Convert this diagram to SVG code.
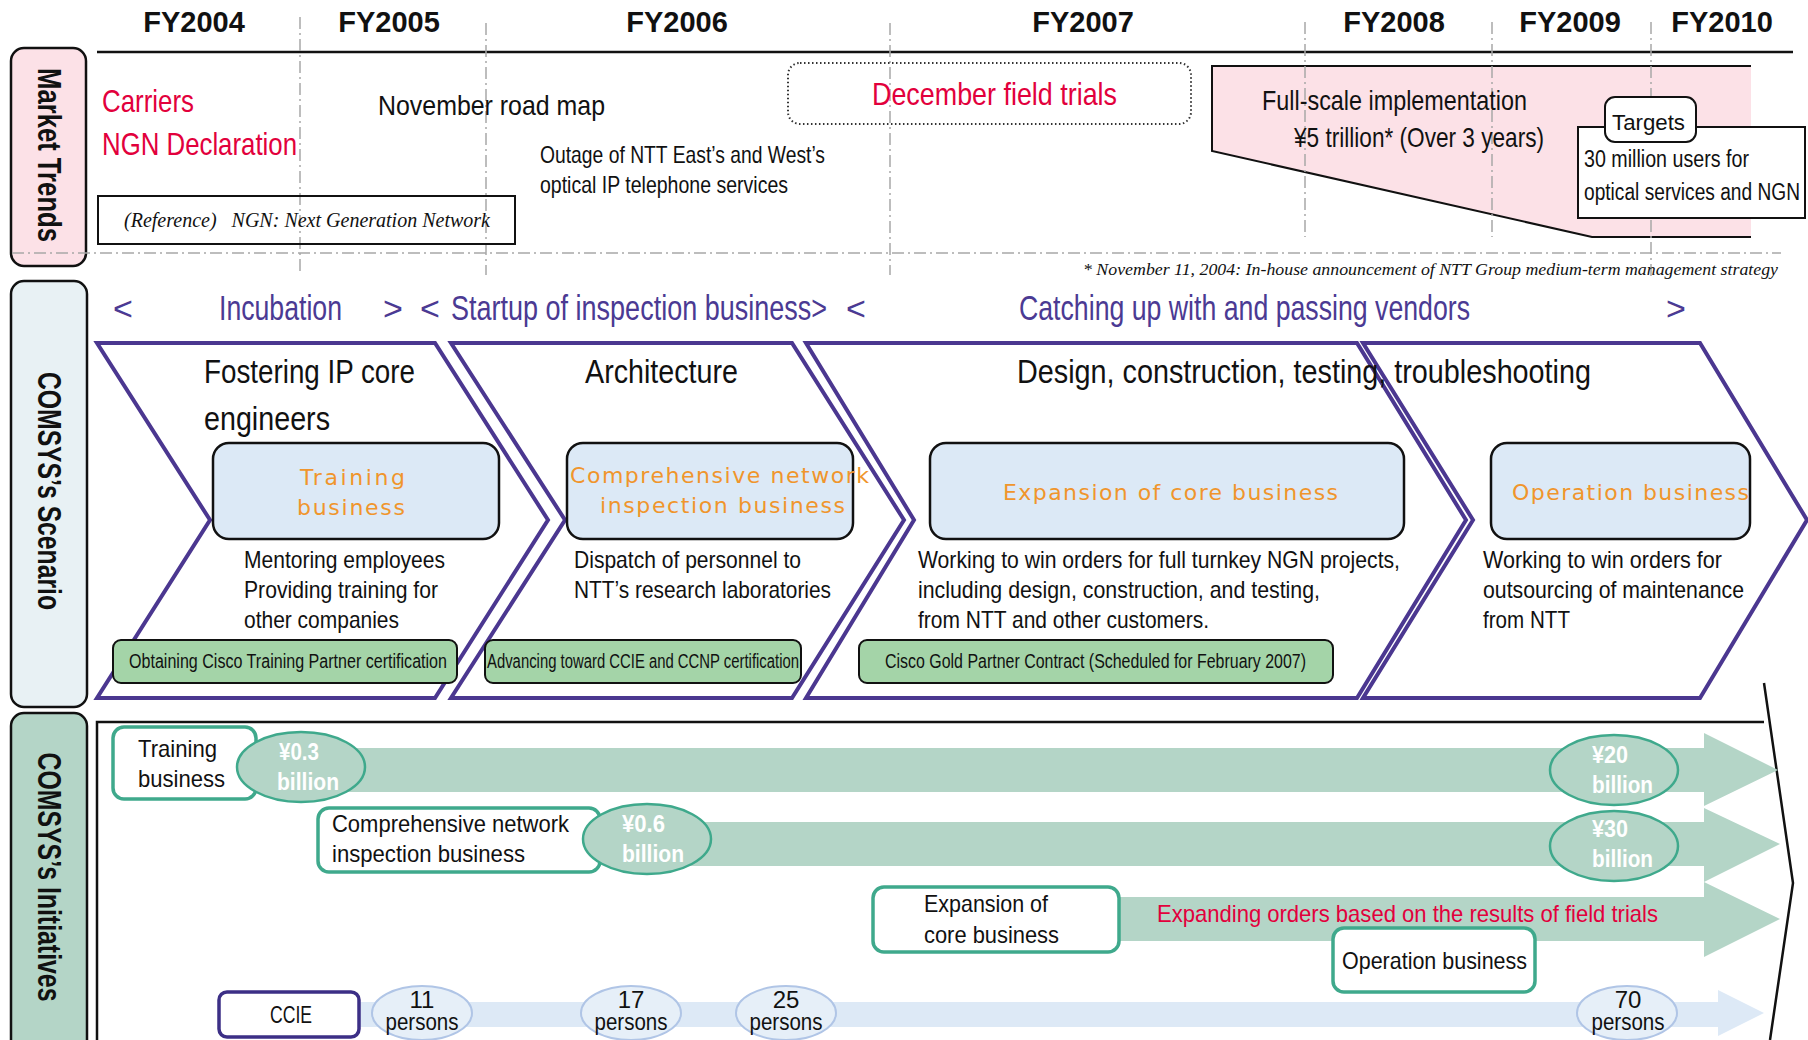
<svg xmlns="http://www.w3.org/2000/svg" width="1808" height="1040" viewBox="0 0 1808 1040">
<defs>
<style>
.t{font-family:"Liberation Sans Narrow","Liberation Sans",Arial,sans-serif;fill:#111}
.fy{font-family:"Liberation Sans",Arial,sans-serif;font-weight:bold;font-size:29px;text-anchor:middle;fill:#111}
.side{font-family:"Liberation Sans",Arial,sans-serif;font-weight:bold;font-size:33px;text-anchor:middle;fill:#111}
.red{fill:#e2003c}
.pur{fill:#4b3a93}
.br{font-family:"Liberation Sans",Arial,sans-serif;font-size:34px;fill:#4b3a93}
.org{font-family:"DejaVu Sans",sans-serif;fill:#f0952c;font-size:22px}
.ser{font-family:"Liberation Serif","Times New Roman",serif;font-style:italic;fill:#111}
.dash{stroke:#a8a8a8;stroke-width:1.5;stroke-dasharray:12 4 2 4;fill:none}
.chev{fill:#fff;stroke:#4b3790;stroke-width:4}
.inner{fill:#dce9f6;stroke:#111;stroke-width:2.5}
.green{fill:#a4d4a8;stroke:#111;stroke-width:2}
.tbox{fill:#fff;stroke:#3fa98c;stroke-width:3.5}
.bar{fill:#b4d5c7}
.ell{fill:#b4d5c7;stroke:#3fa98c;stroke-width:2.5}
.wb{font-family:"Liberation Sans Narrow","Liberation Sans",Arial,sans-serif;font-weight:bold;fill:#fff;font-size:24px}
.pbar{fill:#dde9f6}
.pell{fill:#e6eff8;stroke:#b0c5e6;stroke-width:2}
.sidebox{stroke:#111;stroke-width:2.5}
</style>
</defs>
<rect width="1808" height="1040" fill="#fff"/>

<!-- Side labels -->
<g id="side-market">
<rect class="sidebox" x="11" y="48" width="75" height="218" rx="13" fill="#fce1e7"/>
<text class="side" transform="translate(38,155) rotate(90)" textLength="174" lengthAdjust="spacingAndGlyphs">Market Trends</text>
</g>
<g id="side-scenario">
<rect class="sidebox" x="11" y="281" width="76" height="426" rx="13" fill="#e8f1f4"/>
<text class="side" transform="translate(38,491) rotate(90)" textLength="238" lengthAdjust="spacingAndGlyphs">COMSYS’s Scenario</text>
</g>
<g id="side-initiatives">
<rect class="sidebox" x="11" y="713" width="76" height="345" rx="13" fill="#b4d5c7"/>
<text class="side" transform="translate(38,877) rotate(90)" textLength="249" lengthAdjust="spacingAndGlyphs">COMSYS’s Initiatives</text>
</g>

<!-- Timeline -->
<g id="timeline">
<line x1="97" y1="52" x2="1793" y2="52" stroke="#111" stroke-width="2.5"/>
<text class="fy" x="194" y="32">FY2004</text>
<text class="fy" x="389" y="32">FY2005</text>
<text class="fy" x="677" y="32">FY2006</text>
<text class="fy" x="1083" y="32">FY2007</text>
<text class="fy" x="1394" y="32">FY2008</text>
<text class="fy" x="1570" y="32">FY2009</text>
<text class="fy" x="1722" y="32">FY2010</text>
</g>

<!-- Full-scale implementation shape -->
<g id="fullscale">
<polygon points="1212,66 1751,66 1751,237 1592,237 1212,151" fill="#fce1e7"/>
<path d="M1751,66 H1212 V151 L1592,237 H1751" fill="none" stroke="#111" stroke-width="2"/>
</g>

<!-- dashed grid -->
<g id="grid">
<line class="dash" x1="300" y1="17" x2="300" y2="275"/>
<line class="dash" x1="486" y1="23" x2="486" y2="275"/>
<line class="dash" x1="890" y1="23" x2="890" y2="275"/>
<line class="dash" x1="1305" y1="22" x2="1305" y2="237"/>
<line class="dash" x1="1492" y1="22" x2="1492" y2="237"/>
<line class="dash" x1="1651" y1="22" x2="1651" y2="277"/>
<line class="dash" x1="12" y1="253" x2="1781" y2="253"/>
</g>

<g id="fullscale-text">
<text class="t" x="1262" y="110" font-size="28" textLength="265" lengthAdjust="spacingAndGlyphs">Full-scale implementation</text>
<text class="t" x="1294" y="147" font-size="28" textLength="250" lengthAdjust="spacingAndGlyphs">¥5 trillion* (Over 3 years)</text>
</g>

<g id="targets">
<rect x="1578" y="127" width="227" height="91" fill="#fff" stroke="#111" stroke-width="2"/>
<rect x="1605" y="97" width="91" height="45" rx="10" fill="#fff" stroke="#111" stroke-width="2"/>
<text class="t" x="1612" y="130" font-size="22" textLength="73" lengthAdjust="spacingAndGlyphs">Targets</text>
<text class="t" x="1584" y="167" font-size="23" textLength="165" lengthAdjust="spacingAndGlyphs">30 million users for</text>
<text class="t" x="1584" y="200" font-size="23" textLength="216" lengthAdjust="spacingAndGlyphs">optical services and NGN</text>
</g>

<g id="carriers">
<text class="t red" x="102" y="112" font-size="32" textLength="92" lengthAdjust="spacingAndGlyphs">Carriers</text>
<text class="t red" x="102" y="155" font-size="32" textLength="195" lengthAdjust="spacingAndGlyphs">NGN Declaration</text>
</g>
<g id="reference">
<rect x="98" y="196" width="417" height="48" fill="none" stroke="#111" stroke-width="2"/>
<text class="ser" x="124" y="227" font-size="21" textLength="366" lengthAdjust="spacingAndGlyphs" xml:space="preserve">(Reference)   NGN: Next Generation Network</text>
</g>
<g id="roadmap">
<text class="t" x="378" y="115" font-size="28" textLength="227" lengthAdjust="spacingAndGlyphs">November road map</text>
</g>
<g id="outage">
<text class="t" x="540" y="163" font-size="24" textLength="285" lengthAdjust="spacingAndGlyphs">Outage of NTT East’s and West’s</text>
<text class="t" x="540" y="193" font-size="24" textLength="248" lengthAdjust="spacingAndGlyphs">optical IP telephone services</text>
</g>
<g id="december">
<rect x="788" y="63" width="403" height="61" rx="12" fill="none" stroke="#333" stroke-width="2" stroke-dasharray="1.5 2.5"/>
<text class="t red" x="872" y="105" font-size="32" textLength="245" lengthAdjust="spacingAndGlyphs">December field trials</text>
</g>
<text class="ser" x="1083" y="275" font-size="17" textLength="695" lengthAdjust="spacingAndGlyphs">* November 11, 2004: In-house announcement of NTT Group medium-term management strategy</text>

<!-- Phase row -->
<g id="phases">
<text class="br" x="113" y="320">&lt;</text>
<text class="t pur" x="219" y="320" font-size="35" textLength="123" lengthAdjust="spacingAndGlyphs">Incubation</text>
<text class="br" x="383" y="320">&gt;</text>
<text class="br" x="420" y="320">&lt;</text>
<text class="t pur" x="451" y="320" font-size="35" textLength="376" lengthAdjust="spacingAndGlyphs">Startup of inspection business&gt;</text>
<text class="br" x="846" y="320">&lt;</text>
<text class="t pur" x="1019" y="320" font-size="35" textLength="451" lengthAdjust="spacingAndGlyphs">Catching up with and passing vendors</text>
<text class="br" x="1666" y="320">&gt;</text>
</g>

<!-- Chevrons -->
<g id="chevron-1">
<polygon class="chev" points="97,343 435,343 548,520 435,698 97,698 210,520"/>
<text class="t" x="204" y="383" font-size="33" textLength="211" lengthAdjust="spacingAndGlyphs">Fostering IP core</text>
<text class="t" x="204" y="430" font-size="33" textLength="126" lengthAdjust="spacingAndGlyphs">engineers</text>
<rect class="inner" x="213" y="443" width="286" height="96" rx="16"/>
<text class="org" x="300" y="485" textLength="105">Training</text>
<text class="org" x="297" y="515" textLength="108">business</text>
<text class="t" x="244" y="568" font-size="24" textLength="201" lengthAdjust="spacingAndGlyphs">Mentoring employees</text>
<text class="t" x="244" y="598" font-size="24" textLength="194" lengthAdjust="spacingAndGlyphs">Providing training for</text>
<text class="t" x="244" y="628" font-size="24" textLength="155" lengthAdjust="spacingAndGlyphs">other companies</text>
<rect class="green" x="113" y="640" width="344" height="43" rx="8"/>
<text class="t" x="129" y="668" font-size="20" textLength="318" lengthAdjust="spacingAndGlyphs">Obtaining Cisco Training Partner certification</text>
</g>

<g id="chevron-2">
<polygon class="chev" points="451,343 792,343 904,520 792,698 451,698 565,520"/>
<text class="t" x="585" y="383" font-size="33" textLength="153" lengthAdjust="spacingAndGlyphs">Architecture</text>
<rect class="inner" x="567" y="443" width="286" height="96" rx="16"/>
<text class="org" x="570" y="483" textLength="299">Comprehensive network</text>
<text class="org" x="600" y="513" textLength="245">inspection business</text>
<text class="t" x="574" y="568" font-size="24" textLength="227" lengthAdjust="spacingAndGlyphs">Dispatch of personnel to</text>
<text class="t" x="574" y="598" font-size="24" textLength="257" lengthAdjust="spacingAndGlyphs">NTT’s research laboratories</text>
<rect class="green" x="485" y="640" width="316" height="43" rx="8"/>
<text class="t" x="487" y="668" font-size="20" textLength="312" lengthAdjust="spacingAndGlyphs">Advancing toward CCIE and CCNP certification</text>
</g>

<g id="chevron-3">
<polygon class="chev" points="806,343 1357,343 1466,520 1357,698 806,698 914,520"/>
</g>
<g id="chevron-4">
<polygon class="chev" points="1363,343 1700,343 1807,520 1700,698 1363,698 1473,520"/>
</g>
<g id="chevron-3-content">
<text class="t" x="1017" y="383" font-size="33" textLength="574" lengthAdjust="spacingAndGlyphs">Design, construction, testing, troubleshooting</text>
<rect class="inner" x="930" y="443" width="474" height="96" rx="16"/>
<text class="org" x="1003" y="500" textLength="335">Expansion of core business</text>
<text class="t" x="918" y="568" font-size="24" textLength="482" lengthAdjust="spacingAndGlyphs">Working to win orders for full turnkey NGN projects,</text>
<text class="t" x="918" y="598" font-size="24" textLength="402" lengthAdjust="spacingAndGlyphs">including design, construction, and testing,</text>
<text class="t" x="918" y="628" font-size="24" textLength="291" lengthAdjust="spacingAndGlyphs">from NTT and other customers.</text>
<rect class="green" x="859" y="640" width="474" height="43" rx="8"/>
<text class="t" x="885" y="668" font-size="20" textLength="421" lengthAdjust="spacingAndGlyphs">Cisco Gold Partner Contract (Scheduled for February 2007)</text>
</g>
<g id="chevron-4-content">
<rect class="inner" x="1491" y="443" width="259" height="96" rx="16"/>
<text class="org" x="1512" y="500" textLength="237">Operation business</text>
<text class="t" x="1483" y="568" font-size="24" textLength="239" lengthAdjust="spacingAndGlyphs">Working to win orders for</text>
<text class="t" x="1483" y="598" font-size="24" textLength="261" lengthAdjust="spacingAndGlyphs">outsourcing of maintenance</text>
<text class="t" x="1483" y="628" font-size="24" textLength="87" lengthAdjust="spacingAndGlyphs">from NTT</text>
</g>

<!-- Initiatives frame -->
<g id="initiatives-frame">
<path d="M97,1040 V722 H1764 M1764,683 L1793,883 L1770,1040" fill="none" stroke="#111" stroke-width="2.5"/>
</g>

<!-- Connectors: bars / arrows -->
<g id="connectors">
<path class="bar" d="M301,748 H1704 V733 L1778,770 L1704,806 V792 H301 Z"/>
<path class="bar" d="M647,822 H1704 V808 L1780,844 L1704,882 V866 H647 Z"/>
<path class="bar" d="M1119,897 H1704 V882 L1780,919 L1704,957 V941 H1119 Z"/>
<path class="pbar" d="M359,1002 H1718 V990 L1764,1013 L1718,1036 V1027 H359 Z"/>
</g>

<g id="init-training">
<rect class="tbox" x="113" y="727" width="143" height="72" rx="11"/>
<text class="t" x="138" y="757" font-size="24" textLength="79" lengthAdjust="spacingAndGlyphs">Training</text>
<text class="t" x="138" y="787" font-size="24" textLength="87" lengthAdjust="spacingAndGlyphs">business</text>
<ellipse class="ell" cx="301" cy="767" rx="64" ry="35"/>
<text class="wb" x="279" y="760" textLength="40" lengthAdjust="spacingAndGlyphs">¥0.3</text>
<text class="wb" x="277" y="790" textLength="62" lengthAdjust="spacingAndGlyphs">billion</text>
</g>
<g id="init-inspection">
<rect class="tbox" x="318" y="808" width="282" height="64" rx="11"/>
<text class="t" x="332" y="832" font-size="24" textLength="237" lengthAdjust="spacingAndGlyphs">Comprehensive network</text>
<text class="t" x="332" y="862" font-size="24" textLength="193" lengthAdjust="spacingAndGlyphs">inspection business</text>
<ellipse class="ell" cx="647" cy="839" rx="64" ry="35"/>
<text class="wb" x="622" y="832" textLength="43" lengthAdjust="spacingAndGlyphs">¥0.6</text>
<text class="wb" x="622" y="862" textLength="62" lengthAdjust="spacingAndGlyphs">billion</text>
</g>
<g id="val-20">
<ellipse class="ell" cx="1614" cy="770" rx="64" ry="35"/>
<text class="wb" x="1592" y="763" textLength="36" lengthAdjust="spacingAndGlyphs">¥20</text>
<text class="wb" x="1592" y="793" textLength="61" lengthAdjust="spacingAndGlyphs">billion</text>
</g>
<g id="val-30">
<ellipse class="ell" cx="1614" cy="846" rx="64" ry="35"/>
<text class="wb" x="1592" y="837" textLength="36" lengthAdjust="spacingAndGlyphs">¥30</text>
<text class="wb" x="1592" y="867" textLength="61" lengthAdjust="spacingAndGlyphs">billion</text>
</g>
<g id="init-expansion">
<rect class="tbox" x="873" y="887" width="246" height="65" rx="11"/>
<text class="t" x="924" y="912" font-size="24" textLength="124" lengthAdjust="spacingAndGlyphs">Expansion of</text>
<text class="t" x="924" y="943" font-size="24" textLength="135" lengthAdjust="spacingAndGlyphs">core business</text>
<text class="t red" x="1157" y="922" font-size="24" textLength="501" lengthAdjust="spacingAndGlyphs">Expanding orders based on the results of field trials</text>
</g>
<g id="init-operation">
<rect class="tbox" x="1333" y="928" width="202" height="64" rx="11"/>
<text class="t" x="1342" y="969" font-size="24" textLength="185" lengthAdjust="spacingAndGlyphs">Operation business</text>
</g>
<g id="init-ccie">
<rect x="219" y="992" width="140" height="45" rx="8" fill="#fff" stroke="#3c2f86" stroke-width="3.5"/>
<text class="t" x="270" y="1023" font-size="24" textLength="42" lengthAdjust="spacingAndGlyphs">CCIE</text>
</g>
<g id="persons-11">
<ellipse class="pell" cx="422" cy="1013" rx="50" ry="27"/>
<text class="t" x="422" y="1008" font-size="24" text-anchor="middle">11</text>
<text class="t" x="422" y="1030" font-size="24" text-anchor="middle" textLength="73" lengthAdjust="spacingAndGlyphs">persons</text>
</g>
<g id="persons-17">
<ellipse class="pell" cx="631" cy="1013" rx="50" ry="27"/>
<text class="t" x="631" y="1008" font-size="24" text-anchor="middle">17</text>
<text class="t" x="631" y="1030" font-size="24" text-anchor="middle" textLength="73" lengthAdjust="spacingAndGlyphs">persons</text>
</g>
<g id="persons-25">
<ellipse class="pell" cx="786" cy="1013" rx="50" ry="27"/>
<text class="t" x="786" y="1008" font-size="24" text-anchor="middle">25</text>
<text class="t" x="786" y="1030" font-size="24" text-anchor="middle" textLength="73" lengthAdjust="spacingAndGlyphs">persons</text>
</g>
<g id="persons-70">
<ellipse class="pell" cx="1627" cy="1013" rx="50" ry="27"/>
<text class="t" x="1628" y="1008" font-size="24" text-anchor="middle">70</text>
<text class="t" x="1628" y="1030" font-size="24" text-anchor="middle" textLength="73" lengthAdjust="spacingAndGlyphs">persons</text>
</g>
</svg>
